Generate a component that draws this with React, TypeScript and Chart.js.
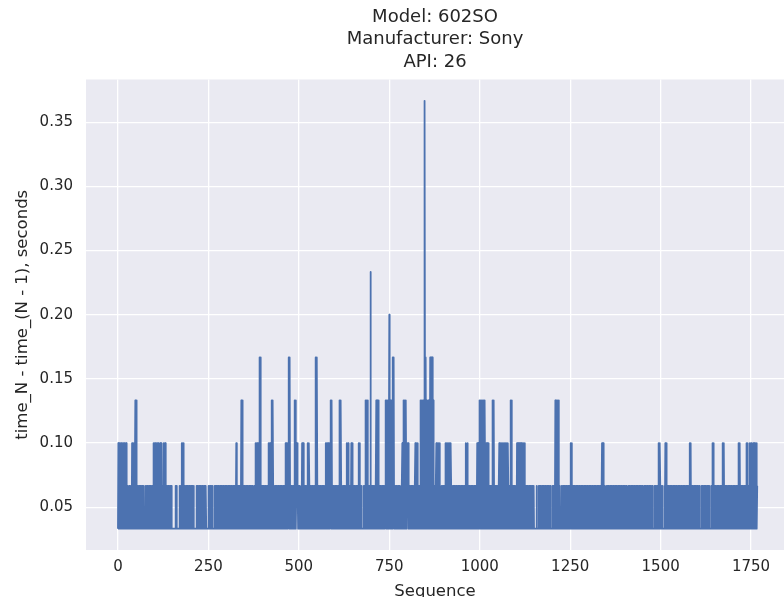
import React, { useEffect, useRef } from 'react';
import { Chart, registerables } from 'chart.js';

Chart.register(...registerables);

const TITLE_LINES = ['Model: 602SO', 'Manufacturer: Sony', 'API: 26'];
const X_LABEL = 'Sequence';
const Y_LABEL = 'time_N - time_(N - 1), seconds';
const X_TICKS = [0, 250, 500, 750, 1000, 1250, 1500, 1750];
const Y_TICKS = [0.05, 0.1, 0.15, 0.2, 0.25, 0.3, 0.35];

// frame-time levels seen in the plot (seconds)
const LEVEL_CODES = ['1', '2', '3', '4', '5', '6', '7', '8'];
const LEVEL_VALUES = [0.0333, 0.0667, 0.1, 0.1333, 0.1667, 0.2, 0.2333, 0.3667];

// one code per sample, 50 samples per row (spaces are only for readability)
const SERIES_CODES = [
  '131313131313131313131313 121 1111 2121212 131313131 242',
  '14 12121212121212121212 1111 12121212121212121212121 3',
  '131313131313 12121 31313 12121 31313 12121212121212121 1',
  '11111111 12121 11111111 212121 31313 121212121212121212',
  '12121212121 11111 12121212121212121212121212121 11111',
  '1 21212121212 11111 212121212121212121212121212121212',
  '121212121212121212121212121 3 1212121212121 4 12 4 21212',
  '1212121212121212121212 11111 2121 313131313 1 5 12 5 21212',
  '12121212121212121 3131313 1 4 12 4 212121212121212121212',
  '1212121212121 3131313 12 5 21 5 121212121212 4 21 4 12 3 2 3 212',
  '121 1111 21 3 12 3 212121212121 3 12 3 212121212121212121 5 12',
  '5 212121212121212121212121 31313131313 12 4 21 4 12121212',
  '1212121212121 4 12 4 2121212121212121 3 12 3 21212121 3 12 3 2',
  '121212121212121 3 12 3 21212 1111 121212 4 21 4 12 4 2121212 7 2',
  '12121212121212 4 21 4 12 4 2121212121212121212 4 21 4 12 4 212',
  '6 21 4 12 4 21 5 12 5 212121212121212 1111 1212 3 212 4 21 4 12 4 212',
  '3 2 3 2121212121212121212 3 21 3 12 3 2121212 4 21 4 12 4 21 4 12 8 2',
  '1 5 12 4 21 4 12 4 21 5 12 5 21 5 12 4 2121212 3 21 3 12 3 21 3 1 1111 21212',
  '12121 3 12 3 21 3 12 3 21 3 12 3 21212121212121212121212121212',
  '121212121212 3 212 3 21212121212121212121212121 3 12 3 21 4',
  '12 4 21 4 12 4 21 4 12 4 212 3 21 3 12 3 21212121212 4 21 4 1212121212',
  '1212 3 21 3 12 3 21 3 12 3 21 3 12 3 21 3 12 3 212121 4 12 4 21212121212',
  '121 3 12 3 21 3 12 3 21 3 12 3 21 3 12 3 2121212121212121212121212',
  '1 11111 12 1111 12121212121212121212121212121212121 111',
  '1 21212121 4 12 4 21 4 12 4 212 1111 121212121212121212121212',
  '1 3 12 3 212121212121212121212121212121212121212121212',
  '12121212121212121212121212121212121212 3 21 3 1212 1111',
  '12121212121212121212121212121212121212121212121212',
  '1212121 1111 212121212121212121212121212121212121212',
  '1111 1212121212121212121212121 1111 212121212121 3 12 3 2',
  '121212 1111 121 3 12 3 212121212121212121212121212121212',
  '121212121212121212121212121212 3 21 3 1212121212121212',
  '12121212 1111 121212121212121212121212 1111 121 3 12 3 212',
  '1212121212121212121212 3 21 3 121212121212121212121212',
  '1212121212121212 3 21 3 12121212121212121 3 12 3 212121 3 12',
  '3 21212 3 21 3 12 3 21 3 12',
];

const SERIES_VALUES: number[] = SERIES_CODES.join('')
  .replace(/\s+/g, '')
  .split('')
  .map((c) => LEVEL_VALUES[LEVEL_CODES.indexOf(c)]);

const SEQUENCE: number[] = SERIES_VALUES.map((_, i) => i);

const X_MIN = -88.35;
const X_MAX = 1841;
const Y_MIN = 0.0167;
const Y_MAX = 0.3833;

const FONT = 'DejaVu Sans';
const TEXT = '#262626';

const bgPlugin = {
  id: 'axesBg',
  beforeDraw(chart: any) {
    const { ctx, chartArea: a } = chart;
    ctx.save();
    ctx.fillStyle = '#EAEAF2';
    ctx.fillRect(a.left, a.top, a.right - a.left, a.bottom - a.top);
    ctx.restore();
  },
};

export default function App() {
  const ref = useRef<HTMLCanvasElement | null>(null);

  useEffect(() => {
    document.body.style.margin = '0';
    document.body.style.overflow = 'hidden';
    if (!ref.current) return;
    const chart = new Chart(ref.current, {
      type: 'line',
      data: {
        datasets: [
          {
            data: SERIES_VALUES.map((y, i) => ({ x: SEQUENCE[i], y })),
            borderColor: '#4C72B0',
            borderWidth: 1.8,
            pointRadius: 0,
            tension: 0,
            fill: false,
            borderJoinStyle: 'round',
            borderCapStyle: 'butt',
          } as any,
        ],
      },
      options: {
        animation: false,
        responsive: true,
        maintainAspectRatio: false,
        parsing: false,
        normalized: true,
        layout: { padding: 0 },
        plugins: {
          legend: { display: false },
          tooltip: { enabled: false },
          title: {
            display: true,
            text: TITLE_LINES,
            fullSize: false,
            color: TEXT,
            font: { family: FONT, size: 18, weight: 'normal', lineHeight: 1.25 },
            padding: { top: 6, bottom: 6 },
          },
        },
        scales: {
          x: {
            type: 'linear',
            min: X_MIN,
            max: X_MAX,
            afterBuildTicks: (s: any) => {
              s.ticks = X_TICKS.map((v) => ({ value: v }));
            },
            afterFit: (s: any) => {
              s.height = 47;
            },
            ticks: {
              autoSkip: false,
              maxRotation: 0,
              padding: 8,
              color: TEXT,
              font: { family: FONT, size: 15 },
              callback: (v: any) => String(v),
            },
            grid: { color: '#FFFFFF', lineWidth: 1.3, drawTicks: false },
            border: { display: false },
            title: {
              display: true,
              text: X_LABEL,
              color: TEXT,
              font: { family: FONT, size: 16.5 },
              padding: { top: 0, bottom: -5 },
            },
          },
          y: {
            type: 'linear',
            min: Y_MIN,
            max: Y_MAX,
            afterBuildTicks: (s: any) => {
              s.ticks = Y_TICKS.map((v) => ({ value: v }));
            },
            afterFit: (s: any) => {
              s.width = 86;
            },
            ticks: {
              padding: 13,
              color: TEXT,
              font: { family: FONT, size: 15 },
              callback: (v: any) => Number(v).toFixed(2),
            },
            grid: { color: '#FFFFFF', lineWidth: 1.3, drawTicks: false },
            border: { display: false },
            title: {
              display: true,
              text: Y_LABEL,
              color: TEXT,
              font: { family: FONT, size: 16.5 },
              padding: { top: 13, bottom: 0 },
            },
          },
        },
      },
      plugins: [bgPlugin],
    } as any);
    return () => chart.destroy();
  }, []);

  return (
    <div style={{ width: 784, height: 597, position: 'relative' }}>
      <canvas ref={ref} />
    </div>
  );
}
